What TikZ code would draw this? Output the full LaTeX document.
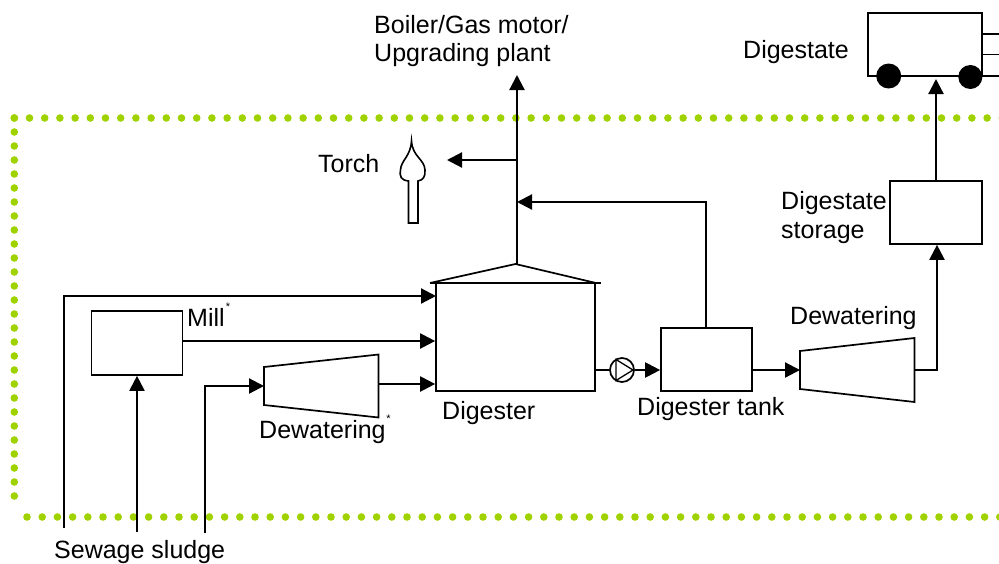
\documentclass[tikz,border=0pt]{standalone}
\usepackage{fontspec}
\setmainfont{Liberation Sans}
\usetikzlibrary{arrows.meta}
\definecolor{dotgreen}{RGB}{160,210,0}
\tikzset{
  flow/.style={line width=2.2pt,-{Triangle[length=15pt,width=15pt]}},
  pipe/.style={line width=2.2pt},
  unit/.style={draw,line width=1.7pt,inner sep=0pt},
  lbl/.style={inner sep=0pt,anchor=base west,font=\fontsize{25}{29}\selectfont},
  note/.style={inner sep=0pt,font=\fontsize{11}{11}\selectfont},
  dotline/.style={dotgreen,line width=7.6pt,line cap=round}
}
\begin{document}
\begin{tikzpicture}[x=1pt,y=-1pt]
\useasboundingbox (0,0) rectangle (999,563);

% plant border
\coordinate (cornerT) at (14.3,118);
\coordinate (cornerB) at (14.3,510);
\coordinate (endT) at (1004,118);
\coordinate (startB) at (27,517);
\coordinate (endB) at (1004,517);
\draw[dotline,dash pattern=on 0pt off 14pt] (cornerT) -- (cornerB);
\draw[dotline,dash pattern=on 0pt off 15.2pt] (cornerT) -- (endT);
\draw[dotline,dash pattern=on 0pt off 15.2pt] (startB) -- (endB);

% units
\node[unit,minimum width=91pt,minimum height=64pt] (mill) at (137,343) {};
\node[unit,minimum width=159pt,minimum height=108pt] (digester) at (515.5,337) {};
\node[unit,minimum width=91pt,minimum height=63pt] (tank) at (706.5,359.5) {};
\node[unit,minimum width=92pt,minimum height=63pt] (storage) at (936,212.5) {};
\node[unit,minimum width=114pt,minimum height=63.5pt] (truck) at (924.7,44.5) {};
\node[draw,circle,line width=1.7pt,minimum size=24pt,inner sep=0pt] (pump) at (622,370) {};
\node[circle,fill=black,minimum size=25pt,inner sep=0pt] (wheelA) at (888.7,76) {};
\node[circle,fill=black,minimum size=24pt,inner sep=0pt] (wheelB) at (970.3,77) {};

% roof
\coordinate (roofL) at (430,283);
\coordinate (roofT) at (515.5,264);
\coordinate (roofR) at (596,283);
\coordinate (roofS) at (601,283);
\draw[line width=1.7pt] (roofL) -- (roofT) -- (roofR);
\draw[line width=1.7pt] (roofL) -- (roofS);

% pump triangle
\draw[line width=1.3pt] (616,359.5) -- (633,370) -- (616,380.5) -- cycle;

% dewatering 1
\coordinate (dewAa) at (264,367);
\coordinate (dewAb) at (378.5,354.5);
\coordinate (dewAc) at (378.5,417.5);
\coordinate (dewAd) at (264,405);
\draw[line width=1.7pt] (dewAa) -- (dewAb) -- (dewAc) -- (dewAd) -- cycle;

% dewatering 2
\coordinate (dewBa) at (800,351);
\coordinate (dewBb) at (914.5,338);
\coordinate (dewBc) at (914.5,402);
\coordinate (dewBd) at (800,389);
\draw[line width=1.7pt] (dewBa) -- (dewBb) -- (dewBc) -- (dewBd) -- cycle;

% torch
\draw[line width=1.6pt] (408.5,223) -- (408.5,181)
  .. controls (401,180) and (399.5,177) .. (400.5,170)
  .. controls (401,160) and (410.5,157) .. (411.5,141)
  .. controls (412.5,157) and (424.5,159) .. (425,170)
  .. controls (425.5,177) and (423,180) .. (418,181)
  -- (418,223) -- cycle;

% feeds
\coordinate (feedA) at (64,528);
\coordinate (feedAc) at (64,296);
\coordinate (feedAe) at (436,296);
\coordinate (feedB) at (137,532);
\coordinate (feedC) at (205,533);
\coordinate (feedCc) at (205,386);
\draw[flow] (feedA) -- (feedAc) -- (feedAe);
\draw[flow] (feedB) -- (mill.south);
\draw[flow] (feedC) -- (feedCc) -- (dewAa |- feedCc);
\coordinate (millOut) at (183,341);
\draw[flow] (millOut) -- (millOut -| digester.west);
\coordinate (dewAout) at (379,384);
\draw[flow] (dewAout) -- (dewAout -| digester.west);

% gas
\coordinate (gasTop) at (517,75);
\coordinate (gasTop2) at (517,264);
\coordinate (torchTap) at (517,160);
\coordinate (torchEnd) at (447,160);
\coordinate (gasIn) at (517,202);
\draw[flow] (gasTop2) -- (gasTop);
\draw[flow] (torchTap) -- (torchEnd);
\coordinate (tankTop) at (706,328);
\draw[flow] (tankTop) -- (tankTop |- gasIn) -- (gasIn);

% digestate
\coordinate (digOut) at (595,370);
\draw[pipe] (digOut) -- (pump.west);
\draw[flow] (pump.east) -- (tank.west |- pump.east);
\coordinate (tankOut) at (752,370);
\draw[flow] (tankOut) -- (800,370);
\coordinate (dewBout) at (914.5,370);
\coordinate (dewBc2) at (937,370);
\draw[flow] (dewBout) -- (dewBc2) -- (dewBc2 |- storage.south);
\coordinate (storeTop) at (936,181);
\coordinate (truckIn) at (936,79);
\draw[flow] (storeTop) -- (truckIn);

% truck tail
\coordinate (tailA) at (982,34);
\coordinate (tailB) at (982,54.5);
\coordinate (tailC) at (982,76);
\draw[line width=1.7pt] (tailA) -- +(18,0);
\draw[line width=1.7pt] (tailB) -- +(18,0);
\draw[line width=1.7pt] (tailC) -- +(18,0);

% labels
\node[lbl] (lblBoiler) at (374,33) {Boiler/Gas motor/};
\node[lbl] (lblUpgrade) at (374,61) {Upgrading plant};
\node[lbl] (lblDigestate) at (743,58) {Digestate};
\node[lbl] (lblTorch) at (318,172) {Torch};
\node[lbl] (lblStoreA) at (781,209) {Digestate};
\node[lbl] (lblStoreB) at (781,238) {storage};
\node[lbl] (lblDewB) at (790,324) {Dewatering};
\node[lbl] (lblMill) at (187,326) {Mill};
\node[note] (starMill) at (228,307) {*};
\node[lbl] (lblDigester) at (442,419) {Digester};
\node[lbl] (lblTank) at (637,415) {Digester tank};
\node[lbl] (lblDewA) at (259,438) {Dewatering};
\node[note] (starDew) at (388.5,419) {*};
\node[lbl] (lblSludge) at (54,558) {Sewage sludge};
\end{tikzpicture}
\end{document}
